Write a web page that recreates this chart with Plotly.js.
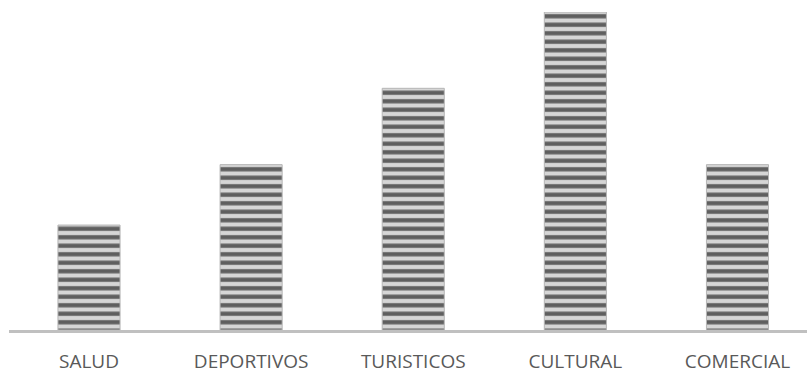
<!DOCTYPE html>
<html>
<head>
<meta charset="utf-8">
<script src="https://cdn.plot.ly/plotly-3.0.1.min.js"></script>
<style>html,body{margin:0;padding:0;background:#fff;}#chart{width:807px;height:375px;}</style>
</head>
<body>
<div id="chart"></div>
<script>
const categories = ["SALUD", "DEPORTIVOS", "TURISTICOS", "CULTURAL", "COMERCIAL"];
const values = [33, 52, 76, 100, 52];

const trace = {
  type: "bar",
  x: categories,
  y: values,
  width: 0.383,
  marker: {
    color: "#d6d6d6",
    line: {color: "#b5b5b5", width: 1},
    pattern: {shape: "-", fgcolor: "#5f5f5f", bgcolor: "#d6d6d6", size: 8.5, solidity: 0.5, fillmode: "replace"}
  },
  hoverinfo: "skip"
};

const layout = {
  width: 807, height: 375,
  margin: {l: 9, r: 0, t: 12, b: 45},
  paper_bgcolor: "#ffffff",
  plot_bgcolor: "#ffffff",
  showlegend: false,
  xaxis: {
    type: "category",
    range: [-0.4935, 4.4288],
    showline: true, linecolor: "#c0c0c0", linewidth: 3,
    showgrid: false, zeroline: false, ticks: "",
    ticklabelstandoff: 12,
    tickfont: {family: "Open Sans, sans-serif", size: 19, color: "#595959"}
  },
  yaxis: {
    range: [0, 100],
    visible: false, showgrid: false, zeroline: false
  }
};

Plotly.newPlot("chart", [trace], layout, {displayModeBar: false, staticPlot: true});
</script>
</body>
</html>
